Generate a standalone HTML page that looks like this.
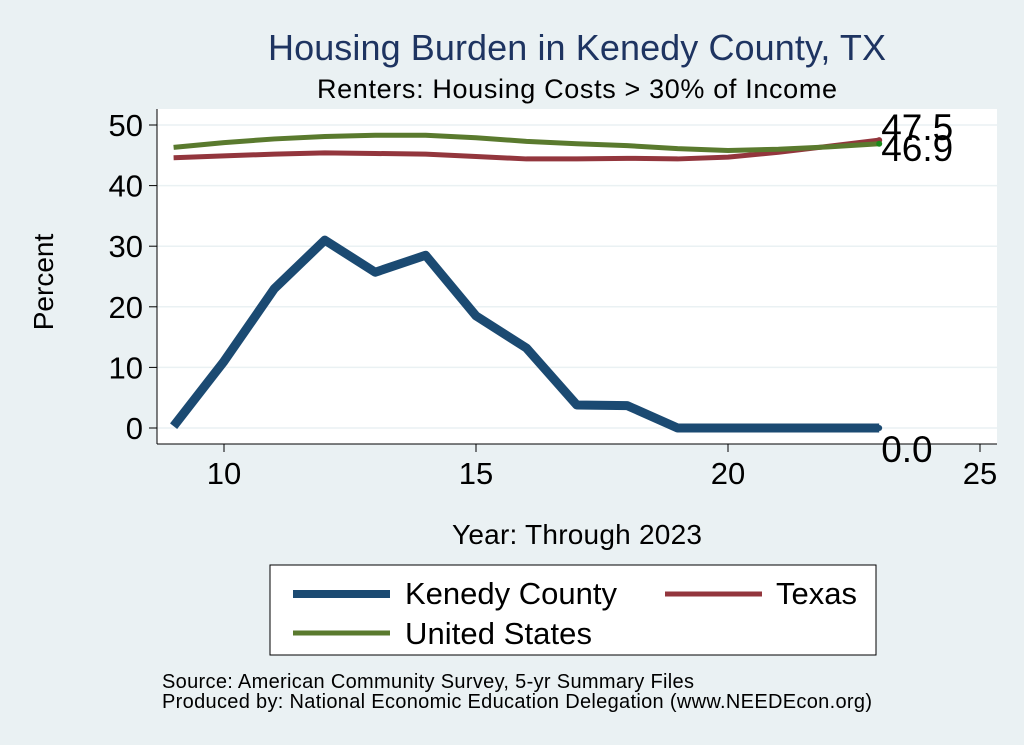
<!DOCTYPE html>
<html><head><meta charset="utf-8"><style>
body{margin:0;background:#eaf1f3;}
svg{display:block;font-family:"Liberation Sans",sans-serif;}
</style></head><body>
<svg id="chart" width="1024" height="745">
<rect width="1024" height="745" fill="#eaf1f3"/>
<rect x="157" y="109" width="840" height="335" fill="#fff"/>
<text x="577" y="60" text-anchor="middle" font-size="36" textLength="618" fill="#1e3461">Housing Burden in Kenedy County, TX</text>
<text x="577" y="98" text-anchor="middle" font-size="27" textLength="520" fill="#000">Renters: Housing Costs &gt; 30% of Income</text>
<g id="grid"></g><g id="axes"></g><g id="lines"></g>
<text x="53" y="282" text-anchor="middle" font-size="28" transform="rotate(-90 53 282)">Percent</text>
<text x="577" y="544" text-anchor="middle" font-size="28" textLength="250">Year: Through 2023</text>
<g>
<rect x="270" y="565" width="606" height="90" fill="#fff" stroke="#000" stroke-width="1"/>
<line x1="293" y1="594" x2="390" y2="594" stroke="#1b4a72" stroke-width="8"/>
<text x="405" y="604" font-size="31" textLength="212">Kenedy County</text>
<line x1="665" y1="594" x2="762" y2="594" stroke="#93363d" stroke-width="5"/>
<text x="776" y="604" font-size="31" textLength="81">Texas</text>
<line x1="293" y1="633" x2="390" y2="633" stroke="#5a7a2e" stroke-width="5"/>
<text x="405" y="644" font-size="31" textLength="187">United States</text>
</g>
<text x="162" y="688" font-size="20" textLength="532">Source: American Community Survey, 5-yr Summary Files</text>
<text x="162" y="708" font-size="20" textLength="710">Produced by: National Economic Education Delegation (www.NEEDEcon.org)</text>
</svg>
<script>
const years=[9,10,11,12,13,14,15,16,17,18,19,20,21,22,23];
const kenedy=[0.3,11,23,31,25.7,28.5,18.5,13.2,3.8,3.7,0,0,0,0,0];
const texas=[44.6,44.9,45.2,45.4,45.3,45.2,44.8,44.4,44.4,44.5,44.4,44.7,45.5,46.5,47.5];
const us=[46.3,47.1,47.7,48.1,48.3,48.3,47.9,47.3,46.9,46.6,46.1,45.8,46.0,46.4,46.9];
const yTicks=[0,10,20,30,40,50];
const xTicks=[10,15,20,25];
const NS='http://www.w3.org/2000/svg';
const X=v=>224+(v-10)*50.4;
const Y=v=>428-v*6.06;
function mk(tag,attrs,parent){const e=document.createElementNS(NS,tag);for(const k in attrs)e.setAttribute(k,attrs[k]);document.getElementById(parent).appendChild(e);return e;}
yTicks.forEach(t=>{
 const g=mk('line',{x1:157,x2:997,y1:Y(t),y2:Y(t),stroke:'#eaf1f3','stroke-width':1.5},'grid');
 
 
 const tk=mk('line',{x1:149,x2:157,y1:Y(t),y2:Y(t),stroke:'#000'},'axes');
 
 
 const tx=mk('text',{x:143,y:Y(t)+11,'text-anchor':'end','font-size':31},'axes');
 tx.textContent=t;
 
 
});
xTicks.forEach(t=>{
 const tk=mk('line',{x1:X(t),x2:X(t),y1:444,y2:452,stroke:'#000'},'axes');
 
 
 const tx=mk('text',{x:X(t),y:484,'text-anchor':'middle','font-size':31},'axes');
 tx.textContent=t;
 
 
});
const ya=mk('line',{x1:157,x2:157,y1:109,y2:444,stroke:'#000'},'axes');


const xa=mk('line',{x1:157,x2:997,y1:444,y2:444,stroke:'#000'},'axes');


function series(vals,color,w,name,dot){
 const p=mk('polyline',{points:years.map((y,i)=>X(y)+','+Y(vals[i])).join(' '),fill:'none',stroke:color,'stroke-width':w,'stroke-linejoin':'round'},'lines');
 
 
 const n=vals.length-1;
 const c=mk('circle',{cx:X(years[n]),cy:Y(vals[n]),r:3,fill:dot},'lines');
 
 
}
series(texas,'#93363d',5,'line-texas','#93363d');
series(us,'#5a7a2e',5,'line-united-states','#1a8a1a');
series(kenedy,'#1b4a72',9,'line-kenedy-county','#1b4a72');
function lab(v,dy,name){
 const t=mk('text',{x:X(23)+2,y:Y(v)+dy,'font-size':37},'lines');
 t.textContent=v.toFixed(1);
 
 
}
lab(texas[texas.length-1],0,'label-texas-end');
lab(us[us.length-1],17,'label-us-end');
lab(kenedy[kenedy.length-1],34,'label-kenedy-end');
</script>
</body></html>
